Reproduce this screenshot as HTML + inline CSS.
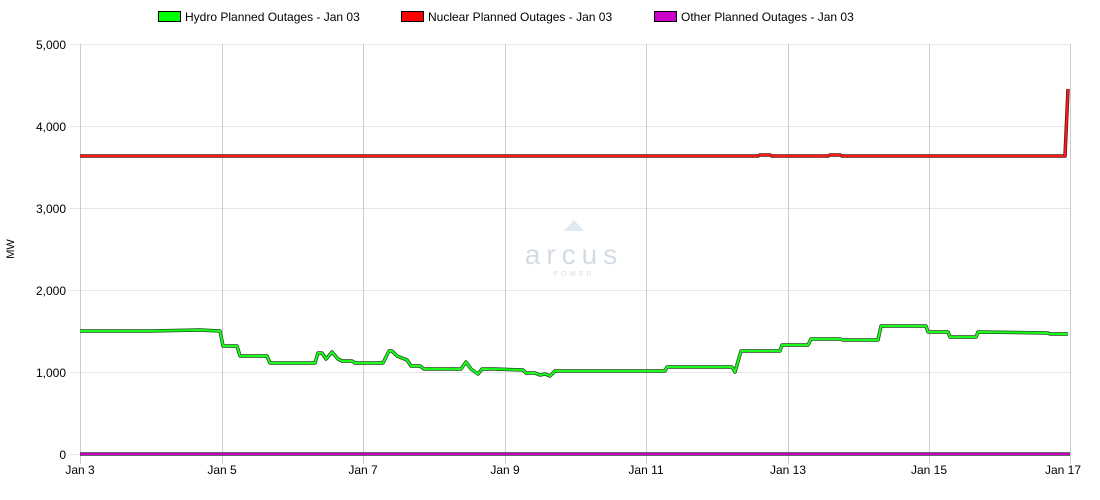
<!DOCTYPE html>
<html><head><style>body{margin:0;background:#fff}svg{display:block;font-family:"Liberation Sans",sans-serif}</style></head><body>
<svg width="1100" height="500" viewBox="0 0 1100 500">
<rect width="1100" height="500" fill="#fff"/>
<g stroke="#e6e6e6" stroke-width="1">
<line x1="80" x2="1070" y1="44.5" y2="44.5"/><line x1="80" x2="1070" y1="126.5" y2="126.5"/><line x1="80" x2="1070" y1="208.5" y2="208.5"/><line x1="80" x2="1070" y1="290.5" y2="290.5"/><line x1="80" x2="1070" y1="372.5" y2="372.5"/>
<line x1="70" x2="80" y1="44.5" y2="44.5"/><line x1="70" x2="80" y1="126.5" y2="126.5"/><line x1="70" x2="80" y1="208.5" y2="208.5"/><line x1="70" x2="80" y1="290.5" y2="290.5"/><line x1="70" x2="80" y1="372.5" y2="372.5"/><line x1="70" x2="80" y1="454.5" y2="454.5"/>
</g>
<g stroke="#ccc" stroke-width="1">
<line x1="80.5" x2="80.5" y1="44" y2="464"/><line x1="222.5" x2="222.5" y1="44" y2="464"/><line x1="363.5" x2="363.5" y1="44" y2="464"/><line x1="505.5" x2="505.5" y1="44" y2="464"/><line x1="646.5" x2="646.5" y1="44" y2="464"/><line x1="788.5" x2="788.5" y1="44" y2="464"/><line x1="929.5" x2="929.5" y1="44" y2="464"/><line x1="1070.5" x2="1070.5" y1="44" y2="464"/>
</g>
<g font-size="12" fill="#000" text-anchor="end">
<text x="66" y="49">5,000</text><text x="66" y="131">4,000</text><text x="66" y="213">3,000</text><text x="66" y="295">2,000</text><text x="66" y="377">1,000</text><text x="66" y="459">0</text>
</g>
<g font-size="12" fill="#000" text-anchor="middle">
<text x="80" y="474">Jan 3</text><text x="222" y="474">Jan 5</text><text x="363" y="474">Jan 7</text><text x="505" y="474">Jan 9</text><text x="646" y="474">Jan 11</text><text x="788" y="474">Jan 13</text><text x="929" y="474">Jan 15</text><text x="1063" y="474">Jan 17</text>
</g>
<text transform="translate(14,249) rotate(-90)" font-size="11" text-anchor="middle">MW</text>
<g opacity="0.35" fill="#7f9bb5" text-anchor="middle">
<polygon points="574,220 564,231 584,231" fill="#a9c4dc"/>
<text x="574" y="264" font-size="28" letter-spacing="6">arcus</text>
<text x="574" y="276" font-size="7" letter-spacing="3">POWER</text>
</g>
<g fill="none" stroke-linejoin="round">
<polyline stroke="#333" stroke-width="3.5" points="80,454 1070,454"/>
<polyline stroke="#c800c8" stroke-width="2" points="80,454 1070,454"/>
<polyline stroke="#5a1a1a" stroke-width="3.5" points="80,156 758,156 760,155 770,155 772,156 828,156 830,155 840,155 842,156 1065,156 1068,89"/>
<polyline stroke="#ff1a1a" stroke-width="2" points="80,156 758,156 760,155 770,155 772,156 828,156 830,155 840,155 842,156 1065,156 1068,89"/>
<polyline stroke="#1d4a1d" stroke-width="3.5" points="80,331 150,331 200,330 220,331 223,346 237,346 240,356 267,356 270,363 315,363 318,353 322,353 326,359 332,352 338,359 342,361 352,361 355,363 383,363 389,351 392,351 397,356 407,360 411,366 420,366 424,369 461,369 466,362 471,369 478,374 482,369 495,369 523,370 526,373 535,373 540,375 545,374 550,376 555,371 645,371 665,371 667,367 732,367 735,372 741,351 780,351 782,345 808,345 811,339 840,339 843,340 878,340 881,326 926,326 928,332 948,332 950,337 976,337 978,332 1048,333 1050,334 1068,334"/>
<polyline stroke="#1aff1a" stroke-width="2" points="80,331 150,331 200,330 220,331 223,346 237,346 240,356 267,356 270,363 315,363 318,353 322,353 326,359 332,352 338,359 342,361 352,361 355,363 383,363 389,351 392,351 397,356 407,360 411,366 420,366 424,369 461,369 466,362 471,369 478,374 482,369 495,369 523,370 526,373 535,373 540,375 545,374 550,376 555,371 645,371 665,371 667,367 732,367 735,372 741,351 780,351 782,345 808,345 811,339 840,339 843,340 878,340 881,326 926,326 928,332 948,332 950,337 976,337 978,332 1048,333 1050,334 1068,334"/>
</g>
<g font-size="12" fill="#000">
<rect x="158.5" y="11.5" width="22" height="10" fill="#00ff00" stroke="#000"/><text x="185" y="21">Hydro Planned Outages - Jan 03</text>
<rect x="401.5" y="11.5" width="22" height="10" fill="#ff0000" stroke="#000"/><text x="428" y="21">Nuclear Planned Outages - Jan 03</text>
<rect x="654.5" y="11.5" width="22" height="10" fill="#c800c8" stroke="#000"/><text x="681" y="21">Other Planned Outages - Jan 03</text>
</g>
</svg>
</body></html>
